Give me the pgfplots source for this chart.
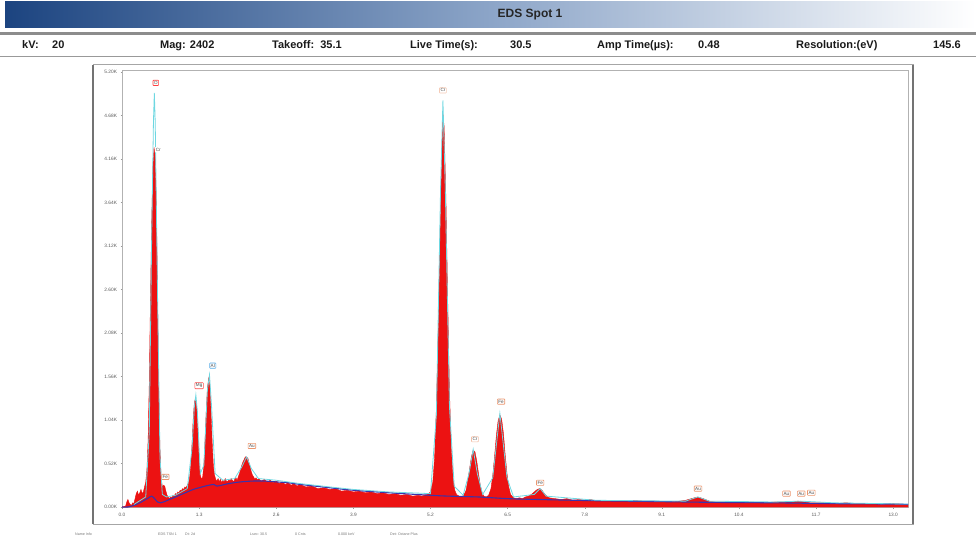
\documentclass[border=0pt]{standalone}
\usepackage{pgfplots}
\pgfplotsset{compat=1.18}
\usepackage{fontspec}
\setmainfont{Liberation Sans}
\definecolor{specred}{RGB}{236,18,18}
\definecolor{bgblue}{RGB}{60,50,170}
\definecolor{fitcyan}{RGB}{110,215,225}
\definecolor{navy}{RGB}{28,68,128}
\definecolor{midblue}{RGB}{140,165,200}
\definecolor{lblorange}{RGB}{235,150,110}
\begin{document}
\begin{tikzpicture}[x=1pt,y=1pt]
\path (0,0) rectangle (976,543);
% title bar
\shade[left color=navy, right color=white, middle color=midblue] (5,515) rectangle (976,541);
\node[font=\bfseries\fontsize{12}{14}\selectfont, text=black!85] at (530,528) {EDS Spot 1};
\fill[black!45] (0,508) rectangle (976,511);
\fill[black!40] (0,485.5) rectangle (976,486.5);
% info row
\begin{scope}[every node/.style={font=\bfseries\fontsize{11}{13}\selectfont, anchor=base west, inner sep=0pt, text=black!90}]
\node at (22,494) {kV:};
\node at (52,494) {20};
\node at (160,494) {Mag: 2402};
\node at (272,494) {Takeoff:\ \ 35.1};
\node at (410,494) {Live Time(s):};
\node at (510,494) {30.5};
\node at (597,494) {Amp Time(\textmu s):};
\node at (698,494) {0.48};
\node at (796,494) {Resolution:(eV)};
\node at (933,494) {145.6};
\end{scope}
% plot frame
\draw[black!35, line width=1pt] (93,19) rectangle (913,478);
\draw[black!55, line width=1.6pt] (93,19) -- (93,478);
\draw[black!55, line width=1.6pt] (913,19) -- (913,478);
% footer
\begin{scope}[every node/.style={font=\fontsize{3.6}{4}\selectfont, anchor=base west, inner sep=0pt, text=black!55}]
\node at (75,8) {Name Info};
\node at (158,8) {EDS TSN 1};
\node at (185,8) {Dt: 2d};
\node at (250,8) {Lsec: 30.5};
\node at (295,8) {0 Cnts};
\node at (338,8) {0.000 keV};
\node at (390,8) {Det: Octane Plus};
\end{scope}
\begin{axis}[
  at={(122pt,36pt)}, anchor=south west,
  scale only axis, width=786pt, height=437pt,
  xmin=0, xmax=13.25, ymin=0, ymax=5.224,
  axis line style={black!30, line width=0.8pt},
  xtick={0,1.3,2.6,3.9,5.2,6.5,7.8,9.1,10.4,11.7,13.0},
  xticklabels={0.0,1.3,2.6,3.9,5.2,6.5,7.8,9.1,10.4,11.7,13.0},
  ytick={0,0.52,1.04,1.56,2.08,2.60,3.12,3.64,4.16,4.68,5.20},
  yticklabels={0.00K,0.52K,1.04K,1.56K,2.08K,2.60K,3.12K,3.64K,4.16K,4.68K,5.20K},
  tick align=outside, major tick length=1.5pt,
  tick style={black!40, line width=0.4pt},
  xtick pos=bottom, ytick pos=left,
  ticklabel style={font=\fontsize{4.8}{5}\selectfont, text=black!65},
  xticklabel style={yshift=-1pt},
  clip=true,
]
\addplot[fill=specred, draw=specred, line width=0.4pt] table {
0.00 0
0.06 0.01
0.08 0.06
0.10 0.09
0.12 0.05
0.14 0.03
0.16 0.02
0.18 0.05
0.20 0.04
0.22 0.10
0.24 0.16
0.26 0.19
0.28 0.14
0.30 0.17
0.32 0.21
0.34 0.16
0.36 0.18
0.38 0.24
0.40 0.30
0.42 0.45
0.44 0.80
0.46 1.50
0.48 2.50
0.50 3.40
0.52 4.05
0.54 4.30
0.56 4.20
0.58 3.60
0.60 2.50
0.62 1.40
0.64 0.70
0.66 0.35
0.68 0.24
0.70 0.26
0.72 0.25
0.74 0.19
0.76 0.14
0.78 0.12
0.80 0.10
0.82 0.12
0.84 0.11
0.86 0.14
0.88 0.13
0.90 0.16
0.92 0.15
0.94 0.18
0.96 0.17
0.98 0.20
1.00 0.19
1.02 0.22
1.04 0.21
1.06 0.24
1.08 0.23
1.10 0.26
1.12 0.28
1.14 0.35
1.16 0.50
1.18 0.75
1.20 1.05
1.22 1.25
1.24 1.30
1.26 1.18
1.28 0.90
1.30 0.55
1.32 0.38
1.34 0.33
1.36 0.36
1.38 0.50
1.40 0.80
1.42 1.15
1.44 1.42
1.46 1.54
1.48 1.45
1.50 1.15
1.52 0.78
1.54 0.50
1.56 0.38
1.58 0.33
1.60 0.31
1.62 0.34
1.64 0.30
1.66 0.33
1.68 0.29
1.70 0.32
1.72 0.30
1.74 0.34
1.76 0.31
1.78 0.30
1.80 0.33
1.82 0.31
1.84 0.34
1.86 0.32
1.88 0.30
1.90 0.33
1.92 0.35
1.94 0.32
1.96 0.36
1.98 0.40
2.00 0.45
2.02 0.50
2.04 0.54
2.06 0.57
2.08 0.60
2.10 0.58
2.12 0.59
2.14 0.53
2.16 0.48
2.18 0.42
2.20 0.38
2.22 0.36
2.24 0.33
2.26 0.35
2.28 0.32
2.30 0.34
2.35 0.31
2.40 0.33
2.45 0.30
2.50 0.32
2.55 0.29
2.60 0.31
2.65 0.28
2.70 0.30
2.75 0.27
2.80 0.29
2.85 0.26
2.90 0.28
2.95 0.25
3.00 0.27
3.10 0.24
3.20 0.25
3.30 0.22
3.40 0.23
3.50 0.21
3.60 0.22
3.70 0.19
3.80 0.20
3.90 0.18
4.00 0.19
4.10 0.17
4.20 0.18
4.30 0.16
4.40 0.17
4.50 0.15
4.60 0.16
4.70 0.14
4.80 0.15
4.90 0.13
5.00 0.14
5.05 0.13
5.10 0.14
5.15 0.15
5.20 0.18
5.24 0.30
5.27 0.60
5.30 1.20
5.33 2.10
5.36 3.20
5.39 4.20
5.41 4.70
5.43 4.55
5.46 3.70
5.49 2.50
5.52 1.40
5.55 0.70
5.58 0.35
5.61 0.20
5.64 0.15
5.68 0.13
5.72 0.12
5.76 0.14
5.80 0.20
5.83 0.32
5.86 0.46
5.89 0.60
5.92 0.68
5.95 0.66
5.98 0.55
6.01 0.40
6.04 0.26
6.07 0.17
6.10 0.13
6.14 0.12
6.18 0.14
6.22 0.22
6.25 0.38
6.28 0.60
6.31 0.85
6.34 1.03
6.37 1.10
6.40 1.05
6.43 0.88
6.46 0.62
6.49 0.40
6.52 0.24
6.55 0.15
6.60 0.11
6.65 0.10
6.70 0.11
6.75 0.10
6.80 0.12
6.85 0.13
6.90 0.15
6.95 0.18
7.00 0.21
7.04 0.22
7.08 0.20
7.12 0.16
7.16 0.13
7.20 0.11
7.30 0.10
7.40 0.09
7.50 0.10
7.60 0.08
7.70 0.09
7.80 0.08
7.90 0.09
8.00 0.07
8.20 0.08
8.40 0.07
8.60 0.08
8.80 0.07
9.00 0.07
9.20 0.06
9.40 0.07
9.50 0.08
9.60 0.10
9.70 0.12
9.80 0.10
9.90 0.07
10.0 0.06
10.2 0.06
10.4 0.05
10.6 0.06
10.8 0.05
11.0 0.06
11.2 0.06
11.4 0.07
11.5 0.06
11.6 0.05
11.8 0.05
12.0 0.04
12.2 0.05
12.4 0.04
12.6 0.04
12.8 0.03
13.0 0.04
13.25 0.03
} \closedcycle;
% background (bremsstrahlung) curve
\addplot[bgblue, line width=1.1pt, smooth] table {
0.00 0.00
0.10 0.00
0.20 0.02
0.30 0.05
0.40 0.09
0.45 0.11
0.50 0.13
0.55 0.10
0.60 0.06
0.65 0.05
0.70 0.06
0.80 0.09
0.90 0.12
1.00 0.15
1.10 0.18
1.20 0.21
1.30 0.23
1.40 0.25
1.55 0.27
1.60 0.25
1.80 0.28
2.00 0.30
2.20 0.31
2.40 0.31
2.60 0.30
2.80 0.29
3.00 0.27
3.50 0.23
3.90 0.20
4.50 0.17
5.20 0.14
5.50 0.13
6.00 0.12
6.50 0.10
7.00 0.09
8.00 0.075
9.00 0.065
10.0 0.055
11.0 0.05
12.0 0.04
13.0 0.035
13.25 0.03
};
% fit curve
\addplot[fitcyan, line width=0.8pt] table {
0.20 0.03
0.40 0.12
0.46 0.9
0.50 3.2
0.53 4.6
0.545 4.95
0.56 4.6
0.60 2.5
0.64 0.6
0.68 0.15
0.75 0.12
0.90 0.14
1.10 0.22
1.18 0.70
1.22 1.20
1.245 1.34
1.27 1.15
1.32 0.40
1.38 0.50
1.44 1.40
1.475 1.58
1.51 1.20
1.57 0.40
1.70 0.32
1.90 0.34
2.02 0.48
2.10 0.60
2.18 0.46
2.30 0.34
2.60 0.32
3.00 0.28
3.50 0.24
3.90 0.21
4.50 0.18
5.20 0.16
5.30 1.10
5.37 3.80
5.41 4.86
5.45 3.80
5.52 1.20
5.60 0.25
5.75 0.14
5.85 0.40
5.92 0.69
5.99 0.40
6.08 0.15
6.25 0.35
6.37 1.12
6.49 0.35
6.60 0.12
6.95 0.15
7.05 0.22
7.15 0.13
8.00 0.08
9.50 0.07
9.71 0.12
9.90 0.07
11.0 0.06
11.44 0.07
12.0 0.05
13.25 0.035
};
% element labels
\begin{scope}[every node/.style={font=\fontsize{4.6}{5}\selectfont, inner sep=1pt, fill=white, rounded corners=0.6pt, line width=0.6pt, text=black!70}]
\node[draw=red!75] at (axis cs:0.57,5.07) {O};
\node at (axis cs:0.61,4.27) {Cr};
\node[draw=lblorange] at (axis cs:0.73,0.36) {Fe};
\node[draw=red!70] at (axis cs:1.30,1.45) {Mg};
\node[draw=fitcyan!80!blue] at (axis cs:1.53,1.69) {Al};
\node[draw=lblorange] at (axis cs:2.19,0.73) {Au};
\node[draw=lblorange!50] at (axis cs:5.41,4.98) {Cr};
\node[draw=lblorange!60] at (axis cs:5.95,0.81) {Cr};
\node[draw=lblorange] at (axis cs:6.39,1.26) {Fe};
\node[draw=lblorange] at (axis cs:7.05,0.29) {Fe};
\node[draw=lblorange] at (axis cs:9.71,0.22) {Au};
\node[draw=lblorange] at (axis cs:11.2,0.16) {Au};
\node[draw=lblorange] at (axis cs:11.45,0.16) {Au};
\node[draw=lblorange] at (axis cs:11.62,0.17) {Au};
\end{scope}
\end{axis}
\end{tikzpicture}
\end{document}
